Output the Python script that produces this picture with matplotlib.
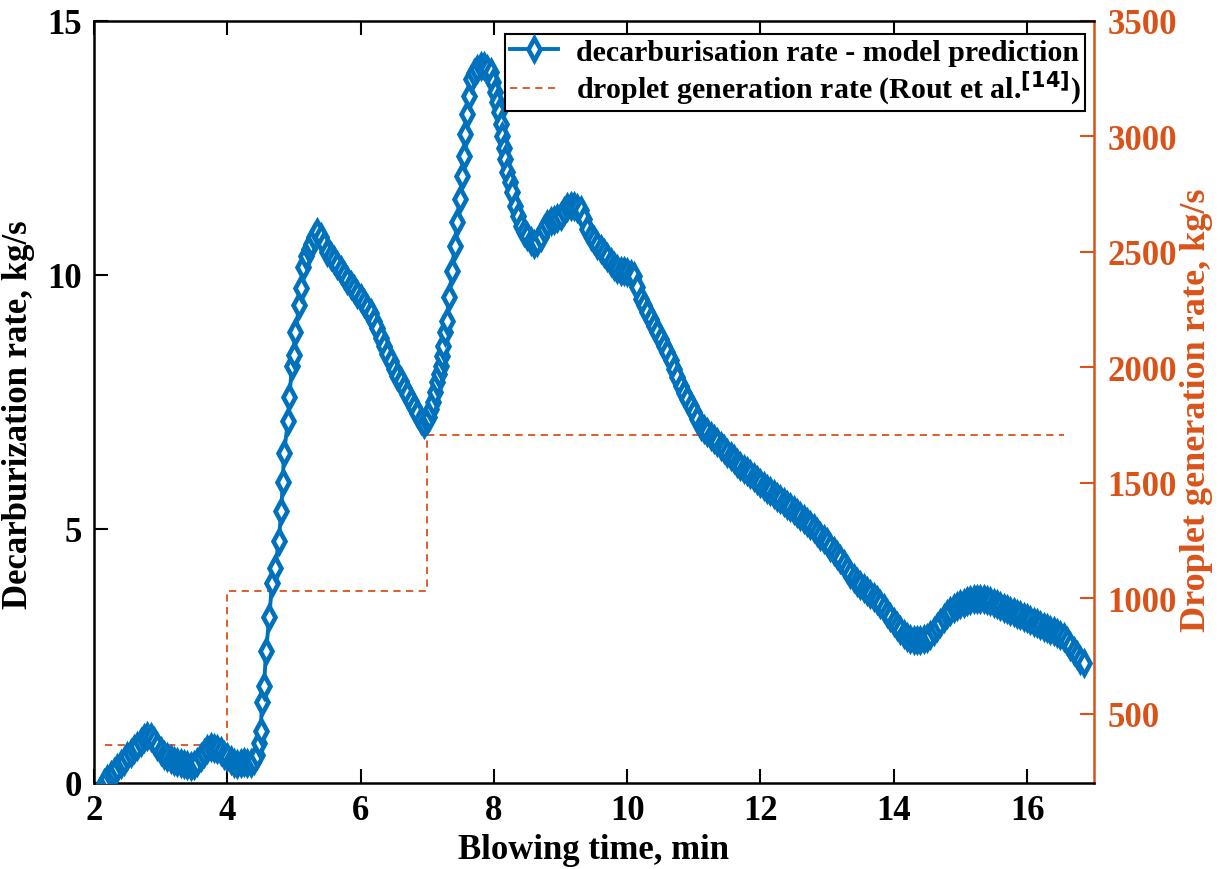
"""Decarburisation rate vs droplet generation rate over blowing time."""

import matplotlib as mpl
import matplotlib.pyplot as plt

mpl.rcParams.update(
    {
        "font.family": "serif",
        "font.serif": ["Liberation Serif", "DejaVu Serif"],
        "font.weight": "bold",
        "axes.labelweight": "bold",
    }
)

BLUE = "#0072BD"
ORANGE = "#D95319"

# decarburisation rate - model prediction (kg/s)
time_min = [
    2.15, 2.2, 2.25, 2.3, 2.35, 2.4, 2.45, 2.5, 2.55, 2.6, 2.65, 2.7, 2.75, 2.8, 2.85, 2.9,
    2.95, 3.0, 3.05, 3.1, 3.15, 3.2, 3.25, 3.3, 3.35, 3.4, 3.45, 3.5, 3.55, 3.6, 3.65, 3.7,
    3.75, 3.8, 3.85, 3.9, 3.95, 4.0, 4.05, 4.1, 4.15, 4.2, 4.25, 4.3, 4.35, 4.4, 4.45,
    4.48, 4.5, 4.52, 4.55, 4.58, 4.63, 4.67, 4.72, 4.77, 4.81, 4.83, 4.85, 4.91, 4.93, 4.97,
    5.0, 5.02, 5.08, 5.11, 5.13, 5.18, 5.22, 5.26, 5.3, 5.34,
    5.4, 5.45, 5.5, 5.55, 5.6, 5.65, 5.7, 5.75, 5.8, 5.85, 5.9, 5.95, 6.0, 6.05, 6.1, 6.15,
    6.2, 6.25, 6.3, 6.35, 6.4, 6.45, 6.5, 6.55, 6.6, 6.65, 6.7, 6.75, 6.8, 6.85, 6.9, 6.95,
    7.0, 7.03, 7.06, 7.09, 7.12, 7.15, 7.18, 7.2, 7.22, 7.24, 7.27, 7.3, 7.33, 7.37, 7.41,
    7.45, 7.49, 7.52, 7.55, 7.57, 7.6, 7.62, 7.65, 7.7, 7.75, 7.8, 7.85, 7.9, 7.95, 7.99,
    8.02, 8.05, 8.07, 8.1, 8.12, 8.15, 8.17, 8.2, 8.24, 8.27, 8.32, 8.36, 8.4, 8.45, 8.5,
    8.55, 8.6, 8.65, 8.7, 8.75, 8.8, 8.85, 8.9, 8.95, 9.0, 9.05, 9.1, 9.15, 9.2, 9.25, 9.3,
    9.35, 9.4, 9.45, 9.5, 9.55, 9.6, 9.65, 9.7, 9.75, 9.8, 9.85, 9.9, 9.95, 10.0, 10.05,
    10.1, 10.15, 10.2, 10.25, 10.3, 10.35, 10.4, 10.45, 10.5, 10.55, 10.6, 10.65, 10.7,
    10.75, 10.8, 10.85, 10.9, 10.95, 11.0, 11.05, 11.1, 11.15, 11.2, 11.25, 11.3, 11.35,
    11.4, 11.45, 11.5, 11.55, 11.6, 11.65, 11.7, 11.75, 11.8, 11.85, 11.9, 11.95, 12.0,
    12.05, 12.1, 12.15, 12.2, 12.25, 12.3, 12.35, 12.4, 12.45, 12.5, 12.55, 12.6, 12.65,
    12.7, 12.75, 12.8, 12.85, 12.9, 12.95, 13.0, 13.05, 13.1, 13.15, 13.2, 13.25, 13.3,
    13.35, 13.4, 13.45, 13.5, 13.55, 13.6, 13.65, 13.7, 13.75, 13.8, 13.85, 13.9, 13.95,
    14.0, 14.05, 14.1, 14.15, 14.2, 14.25, 14.3, 14.35, 14.4, 14.45, 14.5, 14.55, 14.6,
    14.65, 14.7, 14.75, 14.8, 14.85, 14.9, 14.95, 15.0, 15.05, 15.1, 15.15, 15.2, 15.25,
    15.3, 15.35, 15.4, 15.45, 15.5, 15.55, 15.6, 15.65, 15.7, 15.75, 15.8, 15.85, 15.9,
    15.95, 16.0, 16.05, 16.1, 16.15, 16.2, 16.25, 16.3, 16.35, 16.4, 16.45, 16.5, 16.55,
    16.6, 16.65, 16.7, 16.75, 16.8, 16.85,
]
decarb_rate = [
    0.0, 0.08, 0.15, 0.22, 0.3, 0.37, 0.44, 0.52, 0.59, 0.66, 0.73, 0.8, 0.88, 0.93, 0.9, 0.82,
    0.72, 0.62, 0.55, 0.5, 0.47, 0.44, 0.42, 0.4, 0.38, 0.36, 0.34, 0.35, 0.42, 0.5, 0.58, 0.66,
    0.7, 0.68, 0.66, 0.63, 0.55, 0.5, 0.45, 0.4, 0.38, 0.4, 0.42, 0.4, 0.4, 0.45, 0.55,
    0.78, 1.02, 1.6, 1.9, 2.6, 3.27, 3.94, 4.23, 4.76, 5.36, 5.92, 6.5, 7.12, 7.6, 8.2,
    8.43, 8.88, 9.4, 9.74, 10.15, 10.37, 10.5, 10.6, 10.75, 10.85,
    10.75, 10.6, 10.45, 10.37, 10.3, 10.2, 10.1, 10.0, 9.9, 9.8, 9.72, 9.63, 9.55, 9.45, 9.35, 9.25,
    9.1, 8.95, 8.75, 8.6, 8.45, 8.3, 8.15, 8.0, 7.9, 7.78, 7.65, 7.52, 7.4, 7.28, 7.15, 7.07,
    7.15, 7.2, 7.35, 7.5, 7.7, 7.89, 8.05, 8.2, 8.4, 8.6, 8.88, 9.1, 9.57, 10.08, 10.57,
    11.04, 11.5, 11.95, 12.34, 12.77, 13.17, 13.52, 13.86, 13.98, 14.06, 14.1, 14.1, 14.05, 14.0, 13.8,
    13.6, 13.4, 13.2, 12.97, 12.74, 12.5, 12.28, 12.03, 11.82, 11.63, 11.36, 11.15, 10.96, 10.85, 10.77,
    10.67, 10.6, 10.65, 10.75, 10.9, 11.0, 11.05, 11.08, 11.12, 11.16, 11.25, 11.33, 11.36, 11.35, 11.32, 11.28,
    11.1, 10.9, 10.77, 10.68, 10.58, 10.5, 10.42, 10.35, 10.26, 10.18, 10.12, 10.08, 10.07, 10.06, 10.02,
    9.98, 9.75, 9.53, 9.4, 9.27, 9.13, 9.0, 8.87, 8.74, 8.6, 8.48, 8.32, 8.15,
    7.98, 7.82, 7.68, 7.55, 7.42, 7.3, 7.17, 7.03, 6.96, 6.9, 6.83, 6.77, 6.7,
    6.64, 6.57, 6.5, 6.43, 6.37, 6.3, 6.24, 6.18, 6.13, 6.07, 6.02, 5.96, 5.9,
    5.85, 5.79, 5.74, 5.68, 5.63, 5.58, 5.52, 5.47, 5.42, 5.37, 5.31, 5.26, 5.2,
    5.14, 5.08, 5.01, 4.94, 4.86, 4.8, 4.74, 4.65, 4.57, 4.48, 4.4, 4.3, 4.21,
    4.12, 4.03, 3.96, 3.9, 3.83, 3.77, 3.71, 3.65, 3.59, 3.53, 3.44, 3.35, 3.26,
    3.17, 3.08, 3.0, 2.93, 2.87, 2.84, 2.82, 2.82, 2.82, 2.83, 2.86, 2.91, 2.98,
    3.06, 3.15, 3.24, 3.32, 3.39, 3.45, 3.49, 3.52, 3.55, 3.58, 3.6, 3.61, 3.62,
    3.62, 3.61, 3.6, 3.58, 3.55, 3.52, 3.49, 3.45, 3.42, 3.39, 3.36, 3.33, 3.3,
    3.27, 3.24, 3.2, 3.17, 3.14, 3.11, 3.07, 3.04, 3.01, 2.98, 2.95, 2.92, 2.87,
    2.8, 2.7, 2.6, 2.51, 2.42, 2.35,
]

# droplet generation rate (Rout et al.), step values (kg/s)
step_time = [2.17, 4.0, 7.0, 16.55]
droplet_rate = [365, 1030, 1705, 1705]

fig = plt.figure(figsize=(12.22, 8.70), dpi=100)
ax = fig.add_axes([0.077, 0.099, 0.818, 0.876])
ax2 = ax.twinx()

(l1,) = ax.plot(
    time_min, decarb_rate, color=BLUE, lw=2.8, marker="d", ms=11,
    mfc="white", mec=BLUE, mew=3.3, zorder=3,
    label="decarburisation rate - model prediction",
)
(l2,) = ax2.plot(
    step_time, droplet_rate, color=ORANGE, lw=1.3, ls=(0, (4, 3)),
    drawstyle="steps-post", label="droplet generation rate (Rout et al.$^{[14]}$)",
)
ax.set_zorder(ax2.get_zorder() + 1)
ax.patch.set_visible(False)

ax.set_xlim(2, 17)
ax.set_ylim(0, 15)
ax2.set_ylim(200, 3500)
ax.set_xticks(range(2, 17, 2))
ax.set_yticks([0, 5, 10, 15])
ax2.set_yticks(range(500, 3501, 500))

ax.tick_params(axis="both", direction="in", length=10, width=1.5, labelsize=25, top=True)
ax.tick_params(axis="x", pad=8)
ax.tick_params(axis="y", pad=9)
ax2.tick_params(axis="y", direction="in", length=10, width=1.5, labelsize=25,
                colors=ORANGE, pad=10)

for side in ["left", "bottom", "top"]:
    ax.spines[side].set_linewidth(1.8)
for side in ["left", "bottom", "top"]:
    ax2.spines[side].set_visible(False)
ax2.spines["right"].set_color(ORANGE)
ax2.spines["right"].set_linewidth(1.8)
ax.spines["right"].set_visible(False)

ax.set_xlabel("Blowing time, min", fontsize=25)
ax.set_ylabel("Decarburization rate, kg/s", fontsize=25)
ax2.set_ylabel("Droplet generation rate, kg/s", fontsize=26, color=ORANGE)
ax.xaxis.set_label_coords(0.5, -0.066)
ax.yaxis.set_label_coords(-0.059, 0.485)
ax2.yaxis.set_label_coords(1.086, 0.49)

leg = ax.legend(
    handles=[l1, l2], loc="upper right", bbox_to_anchor=(0.997, 0.99), fontsize=21.5,
    frameon=True, fancybox=False, borderpad=0.15, handlelength=1.6, handletextpad=0.6,
    labelspacing=0.1, borderaxespad=0.2,
)
leg.get_frame().set_edgecolor("black")
leg.get_frame().set_linewidth(1.5)
leg.get_frame().set_alpha(1)

fig.savefig("out.png", dpi=100)
